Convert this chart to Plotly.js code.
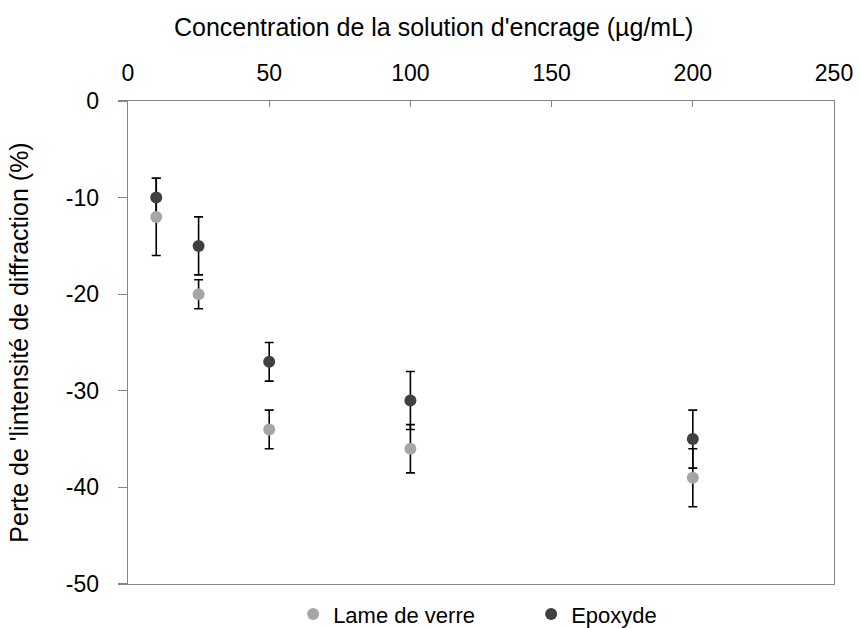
<!DOCTYPE html>
<html>
<head>
<meta charset="utf-8">
<script src="https://cdn.plot.ly/plotly-3.0.1.min.js"></script>
<style>body{margin:0;padding:0;background:#fff}#chart{width:860px;height:628px}</style>
</head>
<body>
<div id="chart"></div>
<script>
const concentrations = [10, 25, 50, 100, 200];
const lameValues = [-12, -20, -34, -36, -39];
const lameErrors = [4, 1.5, 2, 2.5, 3];
const epoxydeValues = [-10, -15, -27, -31, -35];
const epoxydeErrors = [2, 3, 2, 3, 3];
const seriesNames = ['Lame de verre', 'Epoxyde'];
const xTicks = [0, 50, 100, 150, 200, 250];
const yTicks = [0, -10, -20, -30, -40, -50];

const errStyle = {color: '#000000', thickness: 1.6, width: 4.5};
function errTrace(y, e) {
  return {
    x: concentrations, y: y, type: 'scatter', mode: 'markers',
    marker: {size: 12, opacity: 0},
    error_y: Object.assign({type: 'data', array: e, visible: true}, errStyle),
    showlegend: false, hoverinfo: 'skip'
  };
}
const data = [
  errTrace(lameValues, lameErrors),
  errTrace(epoxydeValues, epoxydeErrors),
  {x: concentrations, y: lameValues, type: 'scatter', mode: 'markers', name: seriesNames[0],
   marker: {size: 12, color: '#a6a6a6'}},
  {x: concentrations, y: epoxydeValues, type: 'scatter', mode: 'markers', name: seriesNames[1],
   marker: {size: 12, color: '#404040'}}
];
const axisColor = '#868686';
const layout = {
  width: 860, height: 628,
  margin: {l: 128, r: 26, t: 101, b: 44, autoexpand: false},
  paper_bgcolor: '#ffffff', plot_bgcolor: '#ffffff',
  font: {family: 'Liberation Sans, Arial, sans-serif', color: '#000000', size: 23},
  title: {text: "Concentration de la solution d'encrage (µg/mL)", font: {size: 25},
          x: 0.433, xref: 'paper', xanchor: 'center', y: 0.957, yref: 'container', yanchor: 'middle'},
  showlegend: true,
  legend: {orientation: 'h', x: 0.571, xanchor: 'center', y: -0.019, yanchor: 'top',
           font: {size: 22}, itemwidth: 30, entrywidth: 193, tracegroupgap: 0},
  xaxis: {
    side: 'top', range: [0, 250], tickvals: xTicks, ticktext: xTicks.map(String),
    showgrid: false, zeroline: false, showline: true, linecolor: axisColor, linewidth: 1.3,
    mirror: true, ticks: 'inside', ticklen: 6, tickcolor: axisColor, tickwidth: 1.3,
    tickfont: {size: 23}, ticklabelstandoff: 10
  },
  yaxis: {
    range: [-50, 0], tickvals: yTicks, ticktext: yTicks.map(String),
    showgrid: false, zeroline: false, showline: true, linecolor: axisColor, linewidth: 1.3,
    mirror: true, ticks: 'outside', ticklen: 9, tickcolor: axisColor, tickwidth: 1.3,
    tickfont: {size: 23}, ticklabelstandoff: 14,
    title: {text: "Perte de 'lintensité de diffraction (%)", font: {size: 25}, standoff: 30}
  }
};
Plotly.newPlot('chart', data, layout, {displayModeBar: false, staticPlot: true});
</script>
</body>
</html>
